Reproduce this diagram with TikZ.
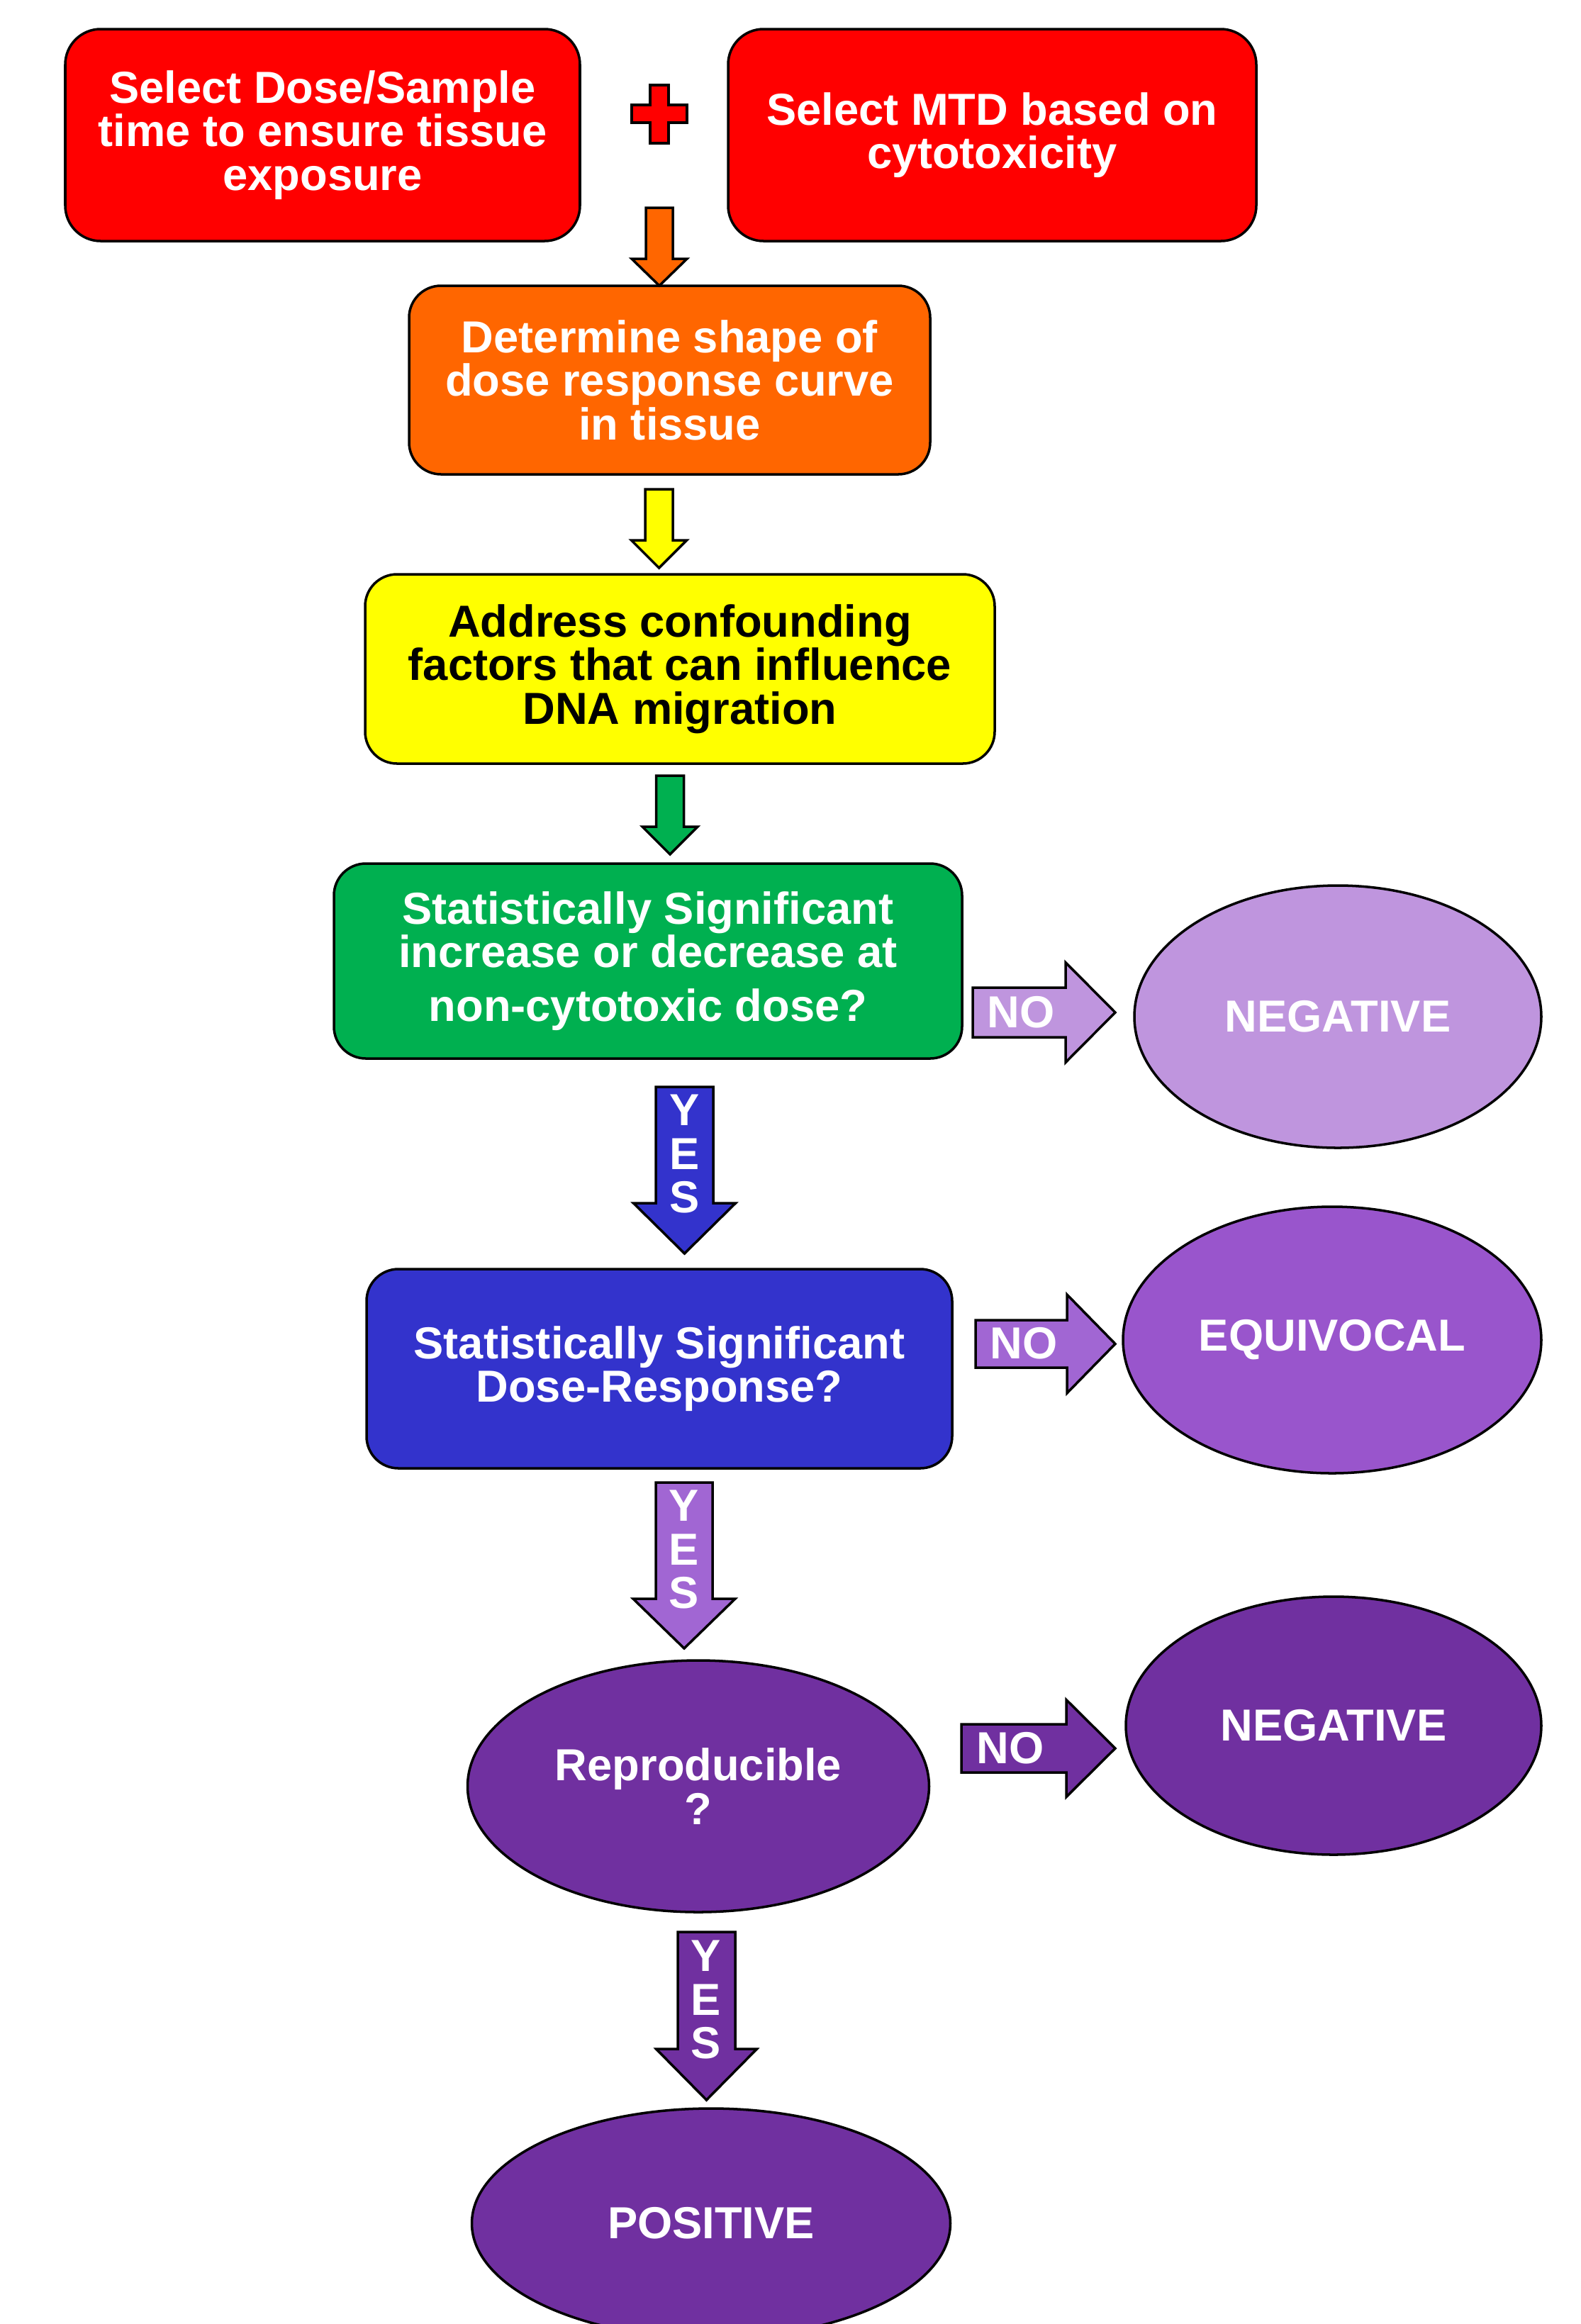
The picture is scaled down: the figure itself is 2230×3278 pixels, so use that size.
\documentclass[tikz,border=0pt]{standalone}
\usepackage{fontspec}
\setmainfont{Liberation Sans}
\usetikzlibrary{shapes.geometric}
\definecolor{cred}{RGB}{255,0,0}
\definecolor{corange}{RGB}{255,102,0}
\definecolor{cyellow}{RGB}{255,255,0}
\definecolor{cgreen}{RGB}{0,176,80}
\definecolor{cblue}{RGB}{51,51,204}
\definecolor{clilac}{RGB}{191,149,222}
\definecolor{cmauve}{RGB}{153,85,204}
\definecolor{cmauvelt}{RGB}{161,102,211}
\definecolor{cpurple}{RGB}{112,48,160}
\newcommand{\diaglbl}{\fontsize{18}{17.5}\selectfont\bfseries}
\newcommand{\downarr}[7]{\draw[blk, fill=#1] ({#2-#6},#3) -- ({#2+#6},#3) -- ({#2+#6},#4) -- ({#2+#7},#4) -- (#2,#5) -- ({#2-#7},#4) -- ({#2-#6},#4) -- cycle;}
\newcommand{\rightarr}[7]{\draw[blk, fill=#1] (#3,{#2-#6}) -- (#4,{#2-#6}) -- (#4,{#2-#7}) -- (#5,#2) -- (#4,{#2+#7}) -- (#4,{#2+#6}) -- (#3,{#2+#6}) -- cycle;}
\tikzset{
  box/.style={draw=black, line width=1pt, rounded corners=4.5mm, inner sep=0pt, align=center, text=white, font=\diaglbl},
  oval/.style={draw=black, line width=1pt, ellipse, inner sep=0pt, align=center, text=white, font=\diaglbl},
  blk/.style={draw=black, line width=1pt, line join=miter},
  lbl/.style={text=white, font=\diaglbl, inner sep=0pt, align=center}
}
\begin{document}
\begin{tikzpicture}[x=0.1mm, y=-0.1mm]
\useasboundingbox (0,0) rectangle (2230,3278);
% boxes
\node[box, fill=cred, rounded corners=5mm, minimum width=72.6mm, minimum height=29.9mm] (redL) at (455,190.5) {Select Dose/Sample\\time to ensure tissue\\exposure};
\node[box, fill=cred, rounded corners=5mm, minimum width=74.5mm, minimum height=29.9mm] (redR) at (1399.5,190.5) {Select MTD based on\\cytotoxicity};
\node[box, fill=corange, minimum width=73.5mm, minimum height=26.6mm] (orange) at (944.5,536) {Determine shape of\\dose response curve\\in tissue};
\node[box, fill=cyellow, text=black, minimum width=88.8mm, minimum height=26.7mm] (yellow) at (959,943.5) {Address confounding\\factors that can influence\\DNA migration};
\node[box, fill=cgreen, minimum width=88.6mm, minimum height=27.5mm] (green) at (914,1355.5) {Statistically Significant\\increase or decrease at\\[4pt]non-cytotoxic dose?};
\node[box, fill=cblue, minimum width=82.6mm, minimum height=28.1mm] (blue) at (930,1930.5) {Statistically Significant\\Dose-Response?};
% ovals
\node[oval, fill=clilac, minimum width=57.4mm, minimum height=37mm] (neg1) at (1887,1434) {NEGATIVE};
\node[oval, fill=cmauve, minimum width=59mm, minimum height=37.6mm] (equiv) at (1879,1890) {EQUIVOCAL};
\node[oval, fill=cpurple, minimum width=65.1mm, minimum height=35.5mm] (repro) at (985,2519.5) {Reproducible\\?};
\node[oval, fill=cpurple, minimum width=58.6mm, minimum height=36.4mm] (neg2) at (1881,2434) {NEGATIVE};
\node[oval, fill=cpurple, minimum width=67.5mm, minimum height=32.4mm] (pos) at (1003,3136) {POSITIVE};
% plus sign
\draw[blk, fill=cred] (917,120) -- (943,120) -- (943,148) -- (969,148) -- (969,173) -- (943,173) -- (943,202) -- (917,202) -- (917,173) -- (891,173) -- (891,148) -- (917,148) -- cycle;
% down arrows
\downarr{corange}{930}{293}{365}{403}{19}{39}
\downarr{cyellow}{929.5}{690}{762}{801}{19.5}{39}
\downarr{cgreen}{945}{1094}{1166}{1205}{19.5}{39}
\downarr{cblue}{965.5}{1533}{1697}{1768}{40.5}{72}
\downarr{cmauvelt}{965}{2091}{2255}{2325}{40}{72}
\downarr{cpurple}{996.5}{2725}{2890}{2962}{40.5}{71}
% right arrows
\rightarr{clilac}{1428}{1372}{1503}{1573}{35}{70.5}
\rightarr{cmauvelt}{1895.5}{1376}{1505}{1573}{33.5}{69.5}
\rightarr{cpurple}{2466}{1356}{1504}{1573}{34}{68.5}
% labels
\node[lbl] (no1) at (1440,1428) {NO};
\node[lbl] (no2) at (1444,1895) {NO};
\node[lbl] (no3) at (1425,2466) {NO};
\node[lbl] (yes1) at (966,1628) {Y\\E\\S};
\node[lbl] (yes2) at (965,2186) {Y\\E\\S};
\node[lbl] (yes3) at (996,2821) {Y\\E\\S};
\end{tikzpicture}
\end{document}
